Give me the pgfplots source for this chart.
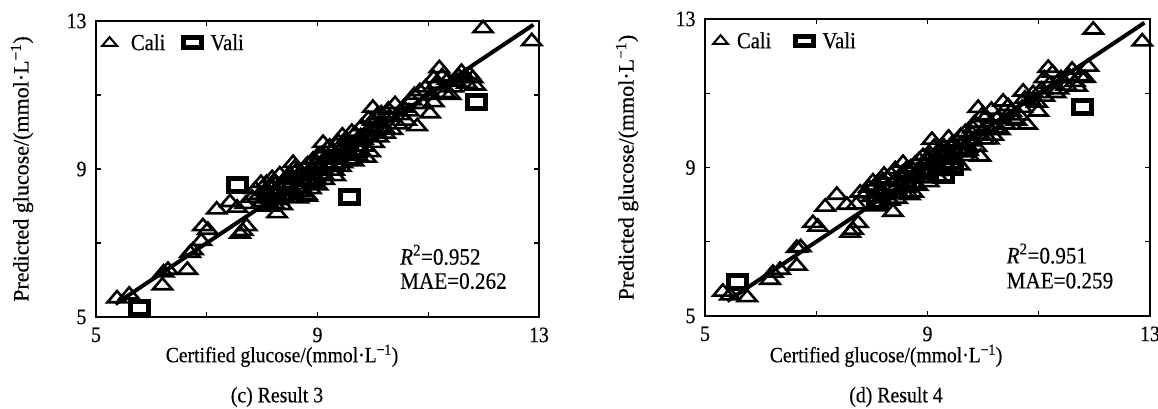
\documentclass[border=0pt]{standalone}
\usepackage{fontspec}
\setmainfont[FakeStretch=0.9, FakeBold=0.4]{Liberation Serif}
\newfontfamily\plainfont[FakeBold=0.4]{Liberation Serif}
\usepackage{pgfplots}
\usepackage{pgfplotstable}
\pgfplotsset{compat=1.18}

\pgfplotstableread{
x y
5.38 5.50
5.60 5.60
6.20 5.85
6.22 6.20
6.30 6.27
6.65 6.27
6.70 6.73
6.75 6.80
6.90 7.05
6.93 7.45
7.02 7.35
7.18 7.90
7.42 8.10
7.60 7.25
7.65 7.32
7.72 7.45
7.70 8.05
7.82 8.22
7.55 7.95
8.27 7.80
8.81 8.25
8.56 9.16
7.95 8.30
8.00 8.10
8.05 8.40
8.10 8.20
8.15 8.55
8.20 8.35
8.25 8.60
8.30 8.15
8.35 8.45
8.40 8.70
8.45 8.30
8.50 8.55
8.50 8.85
8.55 8.40
8.60 8.70
8.65 8.20
8.70 8.90
8.70 8.50
8.75 8.65
8.80 8.30
8.85 8.95
8.90 8.60
8.95 8.80
9.00 9.15
9.00 8.55
9.05 9.00
9.10 9.70
9.10 8.85
9.15 9.30
9.20 9.10
9.25 9.45
9.30 8.95
9.35 9.25
9.40 9.50
9.45 9.90
9.45 9.15
9.50 9.35
9.55 9.60
9.60 9.40
9.65 9.20
9.70 9.75
9.75 9.50
9.80 10.15
9.85 9.60
9.90 9.90
9.95 9.45
10.00 10.65
10.00 10.30
10.05 10.00
10.10 9.85
10.15 10.50
10.20 10.10
10.30 10.40
10.40 10.75
10.45 10.20
10.50 10.45
10.60 10.30
10.75 11.00
10.80 10.15
10.85 11.10
10.95 11.20
11.03 10.50
11.05 11.00
11.15 11.30
11.20 11.72
11.30 11.05
11.35 11.40
11.45 11.20
11.55 11.50
11.60 11.62
11.70 11.30
11.75 11.55
11.80 11.45
11.85 11.25
11.99 12.80
12.87 12.45
8.08 8.62
8.22 8.05
8.38 8.25
8.48 8.72
8.62 8.95
8.78 9.05
8.92 9.25
9.08 9.40
9.22 9.60
9.38 9.72
9.52 9.80
9.68 9.95
9.82 9.78
9.95 10.10
10.12 10.25
7.88 8.45
7.98 8.62
8.12 7.98
8.18 8.75
8.32 8.85
8.36 8.02
8.52 8.22
8.58 9.02
8.68 8.38
8.82 9.12
8.88 8.45
8.98 8.70
9.02 9.38
9.12 8.70
9.18 9.55
9.28 9.30
9.32 8.80
9.42 9.05
9.48 9.62
9.58 9.25
9.62 10.00
9.72 9.35
9.78 9.88
9.88 9.30
9.92 10.35
10.02 9.70
10.08 10.45
10.22 9.95
10.28 10.60
10.35 10.05
10.55 10.65
10.65 10.55
10.90 10.75
11.10 10.80
11.25 11.50
11.40 11.00
11.50 11.35
11.65 11.45
11.10 11.45
10.70 10.85
}\caliA

\pgfplotstableread{
x y
5.79 5.24
7.56 8.57
9.58 8.24
11.88 10.82
8.15 8.30
8.45 8.50
8.90 8.75
9.30 9.20
9.70 9.55
}\valiA

\pgfplotstableread{
x y
5.32 5.65
5.45 5.55
5.76 5.50
6.17 5.97
6.22 6.16
6.35 6.24
6.65 6.35
6.65 6.83
6.72 6.85
6.94 7.50
7.03 7.40
7.16 7.94
7.37 8.26
7.55 7.99
7.61 7.24
7.66 7.32
7.75 7.50
7.79 8.32
7.72 8.00
8.38 7.80
8.74 8.32
8.56 9.12
9.08 9.74
7.95 8.45
8.00 8.20
8.05 8.50
8.10 8.05
8.15 8.40
8.20 8.65
8.25 8.25
8.30 8.50
8.35 8.80
8.40 8.40
8.45 8.15
8.50 8.60
8.55 8.85
8.60 8.45
8.65 8.70
8.70 9.00
8.75 8.55
8.80 8.85
8.85 9.20
8.90 8.70
8.95 9.05
9.00 8.80
9.05 9.35
9.10 9.10
9.15 8.90
9.20 9.45
9.25 9.20
9.30 9.55
9.35 9.00
9.40 9.35
9.45 9.65
9.50 9.20
9.55 9.50
9.60 9.85
9.65 9.40
9.70 9.60
9.75 9.30
9.80 9.90
9.85 10.20
9.91 10.60
9.95 9.29
10.00 10.00
10.05 10.35
10.10 9.75
10.18 9.85
10.25 10.30
10.36 10.77
10.40 10.15
10.50 10.50
10.60 10.25
10.72 11.04
10.79 10.15
10.85 10.80
10.97 10.74
10.99 10.50
11.05 11.10
11.17 11.68
11.20 11.25
11.30 11.00
11.40 11.40
11.50 11.20
11.60 11.63
11.69 11.17
11.75 11.45
11.83 11.41
11.89 11.71
11.98 12.71
12.86 12.39
8.12 8.30
8.28 8.70
8.42 8.62
8.58 8.30
8.72 8.72
8.88 8.95
9.02 9.20
9.18 9.25
9.32 9.35
9.48 9.45
9.62 9.62
9.78 9.70
9.92 9.85
10.08 10.10
10.22 10.05
7.90 8.30
8.02 8.62
8.08 7.95
8.22 8.80
8.32 8.10
8.42 8.95
8.48 8.30
8.62 8.95
8.68 8.25
8.78 9.10
8.82 8.50
8.92 9.30
9.02 8.60
9.12 9.55
9.18 8.75
9.28 9.40
9.38 9.80
9.42 9.10
9.52 9.70
9.58 9.05
9.68 9.95
9.72 9.45
9.82 10.05
9.88 9.55
9.98 10.40
10.02 9.75
10.15 10.55
10.30 10.00
10.45 10.65
10.55 10.30
10.70 10.60
10.90 11.00
11.10 10.90
11.25 11.55
11.35 11.10
11.55 11.45
11.65 11.30
11.10 11.40
10.75 10.85
10.65 10.40
}\caliB

\pgfplotstableread{
x y
5.58 5.92
9.28 8.80
11.78 10.63
8.10 8.10
8.60 8.55
9.00 8.90
9.45 9.00
}\valiB

\newcommand\tickfont{\fontsize{22}{24}\selectfont}
\newcommand\legfont{\fontsize{23}{26}\selectfont}
\newcommand\annfont{\fontsize{23.5}{28}\selectfont}
\newcommand\xlabfont{\fontsize{21.8}{24}\selectfont}
\newcommand\ylabfont{\plainfont\fontsize{22}{24}\selectfont}

\pgfplotsset{
  myaxis/.style={
    scale only axis,
    clip=false,
    xmin=5, xmax=13, ymin=5, ymax=13,
    xtick={5,7,9,11,13}, xticklabels={5,,9,,13},
    ytick={5,7,9,11,13}, yticklabels={5,,9,,13},
    tick align=inside,
    major tick length=5pt,
    tick style={line width=1.3pt, black},
    axis line style={line width=1.7pt},
    xticklabel style={font=\tickfont, yshift=-7pt},
    yticklabel style={font=\tickfont, xshift=-6pt},
    xlabel={Certified glucose/(mmol·L\textsuperscript{−1})},
    ylabel={Predicted glucose/(mmol·L\textsuperscript{−1})},
    xlabel style={font=\xlabfont},
    ylabel style={font=\ylabfont},
    legend style={draw=none, fill=none, inner sep=0pt, anchor=west,
      font=\legfont, legend columns=2},
    legend cell align=left,
  },
  cali/.style={only marks, mark=triangle, mark size=11pt,
    mark options={draw=black, fill=none, line width=2.6pt, yscale=0.68},
    legend image code/.code={\draw[mark=triangle, mark size=8.5pt,
      mark options={draw=black, fill=none, line width=2pt, yscale=0.68}]
      plot coordinates {(0.3cm,0cm)};}},
  vali/.style={only marks, mark=square, mark size=9pt,
    mark options={draw=black, fill=none, line width=5pt, yscale=0.72},
    legend image code/.code={\draw[mark=square, mark size=9pt,
      mark options={draw=black, fill=none, line width=5pt, yscale=0.55}]
      plot coordinates {(0.3cm,0cm)};}},
}

\begin{document}
\begin{tikzpicture}
\useasboundingbox (0,0) rectangle (1158pt,409pt);
\begin{axis}[myaxis, at={(96pt,92pt)}, anchor=south west, width=443pt, height=296pt,
  legend style={at={(axis description cs:0.0,0.926)}, xshift=6pt,
    /tikz/column 1/.style={column sep=12pt},
    /tikz/column 2/.style={column sep=16pt},
    /tikz/column 3/.style={column sep=7pt}},
  xlabel style={at={(axis description cs:0.42,-0.131)}, anchor=center},
  ylabel style={at={(axis description cs:-0.167,0.5)}, anchor=center}]
\addplot[cali] table[x=x,y=y] {\caliA};
\addlegendentry{Cali}
\addplot[vali] table[x=x,y=y] {\valiA};
\addlegendentry{Vali}
\addplot[black, line width=4pt, forget plot] coordinates {(5.35,5.35) (12.9,12.9)};
\node[anchor=west, font=\annfont] at (axis cs:10.43,6.68) {\textit{R}\textsuperscript{2}=0.952};
\node[anchor=west, font=\annfont] at (axis cs:10.43,5.97) {MAE=0.262};
\end{axis}
\begin{axis}[myaxis, at={(705pt,93pt)}, anchor=south west, width=445pt, height=297pt,
  legend style={at={(axis description cs:0.0,0.926)}, xshift=8pt,
    /tikz/column 1/.style={column sep=7pt},
    /tikz/column 2/.style={column sep=22pt},
    /tikz/column 3/.style={column sep=7pt}},
  xlabel style={at={(axis description cs:0.407,-0.134)}, anchor=center},
  ylabel style={at={(axis description cs:-0.175,0.5)}, anchor=center}]
\addplot[cali] table[x=x,y=y] {\caliB};
\addlegendentry{Cali}
\addplot[vali] table[x=x,y=y] {\valiB};
\addlegendentry{Vali}
\addplot[black, line width=4pt, forget plot] coordinates {(5.4,5.4) (12.9,12.9)};
\node[anchor=west, font=\annfont] at (axis cs:10.36,6.68) {\textit{R}\textsuperscript{2}=0.951};
\node[anchor=west, font=\annfont] at (axis cs:10.36,5.95) {MAE=0.259};
\end{axis}
\node[font=\tickfont] at (277pt,12pt) {(c) Result 3};
\node[font=\tickfont] at (896pt,12pt) {(d) Result 4};
\end{tikzpicture}
\end{document}
